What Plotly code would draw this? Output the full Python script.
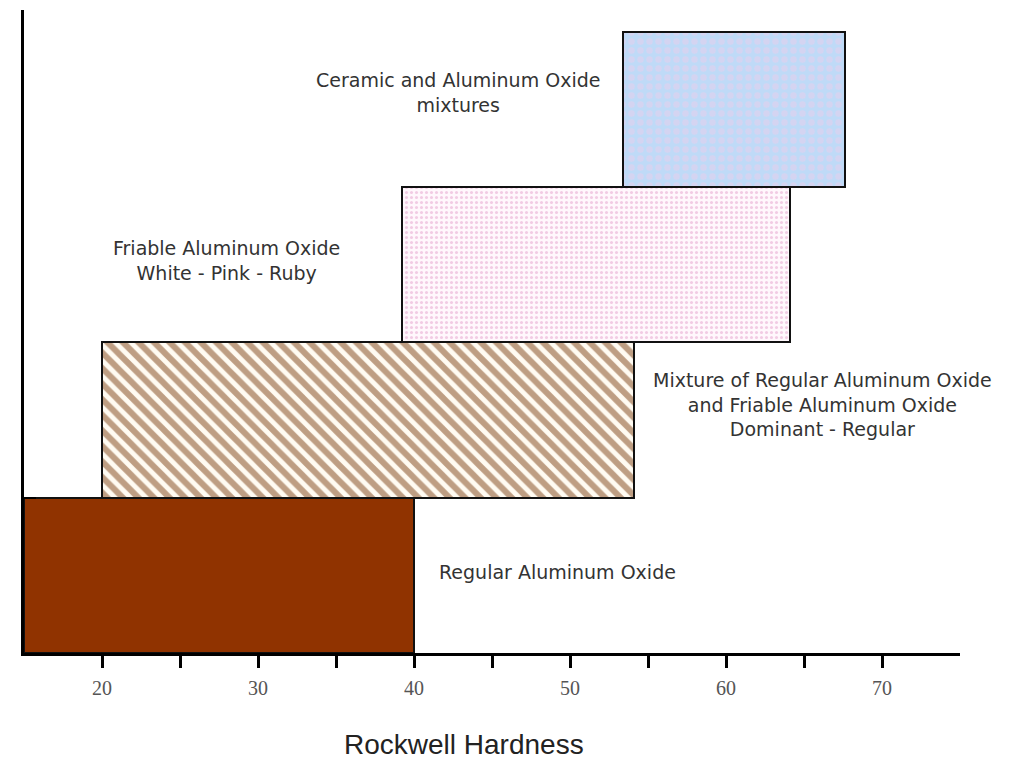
import plotly.graph_objects as go

# Data
materials = ["Regular Aluminum Oxide",
             "Mixture of Regular Aluminum Oxide and Friable Aluminum Oxide",
             "Friable Aluminum Oxide",
             "Ceramic and Aluminum Oxide mixtures"]
hardness_start = [15, 20, 39.2, 53.4]
hardness_end = [40, 54.1, 64.1, 67.6]
levels = [0.5, 1.5, 2.5, 3.5]
labels = ["Regular Aluminum Oxide",
          "Mixture of Regular Aluminum Oxide<br>and Friable Aluminum Oxide<br>Dominant - Regular",
          "Friable Aluminum Oxide<br>White - Pink - Ruby",
          "Ceramic and Aluminum Oxide<br>mixtures"]
label_x = [49.2, 66.2, 28.0, 42.8]
label_y = [0.52, 1.60, 2.53, 3.61]
tick_vals = [20, 25, 30, 35, 40, 45, 50, 55, 60, 65, 70]
tick_text = ["20", "", "30", "", "40", "", "50", "", "60", "", "70"]
x_title = "Rockwell Hardness"

# Styles
styles = [
    dict(shape="", fg="#903300", bg="#903300", size=8, solidity=0.3),
    dict(shape="\\", fg="#7e4214", bg="#fffbf2", size=11, solidity=0.55),
    dict(shape=".", fg="#e4a0cc", bg="#fff8fc", size=5, solidity=0.3),
    dict(shape=".", fg="#e9cdec", bg="#bfdaf7", size=9, solidity=0.4),
]

fig = go.Figure()
for i in range(len(materials)):
    s = styles[i]
    fig.add_trace(go.Bar(
        y=[levels[i]],
        x=[hardness_end[i] - hardness_start[i]],
        base=[hardness_start[i]],
        orientation="h",
        width=1,
        name=materials[i],
        marker=dict(
            color=s["bg"],
            line=dict(color="#111111", width=2),
            pattern=dict(shape=s["shape"], fgcolor=s["fg"], bgcolor=s["bg"],
                         size=s["size"], solidity=s["solidity"], fillmode="overlay"),
        ),
        hoverinfo="skip",
    ))

for i in range(len(labels)):
    fig.add_annotation(x=label_x[i], y=label_y[i], text=labels[i], showarrow=False,
                       xanchor="center", yanchor="middle", align="center",
                       font=dict(family="DejaVu Sans, Arial", size=19, color="#333333"))

# Axis title (placed slightly left of plot centre, as in the reference)
fig.add_annotation(x=0.47, y=-0.143, xref="paper", yref="paper", text=x_title,
                   showarrow=False, xanchor="center", yanchor="middle",
                   font=dict(family="Liberation Sans, Arial", size=28, color="#222222"))

fig.update_layout(
    width=1009, height=759,
    margin=dict(l=16, r=57, t=2, b=114),
    paper_bgcolor="white", plot_bgcolor="white",
    showlegend=False, bargap=0,
)
fig.update_xaxes(
    range=[15, 75], showgrid=False, zeroline=False,
    showline=True, linecolor="black", linewidth=3,
    tickmode="array", tickvals=tick_vals, ticktext=tick_text,
    ticks="outside", ticklen=12, tickwidth=3, tickcolor="black",
    tickfont=dict(family="Liberation Serif, Times New Roman", size=20, color="#555555"),
    ticklabelstandoff=3,
)
fig.update_yaxes(
    range=[0, 4.14], showgrid=False, zeroline=False,
    showline=True, linecolor="black", linewidth=3,
    tickmode="array", tickvals=[1], ticks="inside", ticklen=12, tickwidth=2,
    tickcolor="black", showticklabels=False,
)

fig.write_html("out.html")
